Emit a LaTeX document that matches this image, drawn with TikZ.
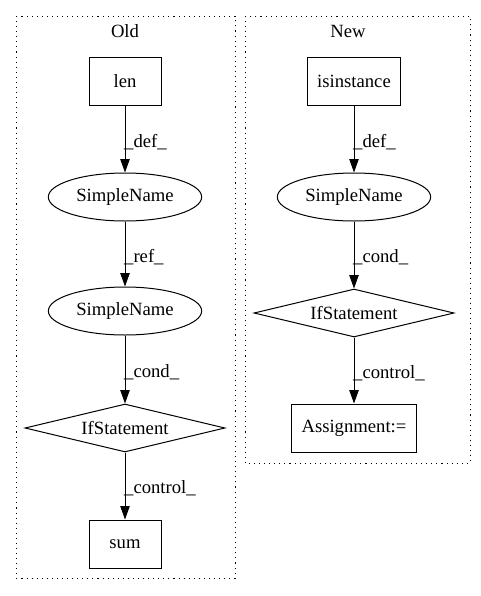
\documentclass[tikz,border=0pt]{standalone}
\usepackage{fontspec}
\setmainfont{Liberation Serif}
\usepackage{tikz}
\usetikzlibrary{arrows, arrows.meta}
\usetikzlibrary{positioning}
\usetikzlibrary{shapes.geometric}

\begin{document}
\begin{tikzpicture}[x=0.75pt, y=-0.75pt, font=\fontsize{14pt}{16pt}\selectfont, line width=0.75pt,
	box/.style={draw, rectangle, minimum height=36pt, inner sep=0pt},
	oval/.style={draw, ellipse, minimum width=115pt, minimum height=36pt, inner sep=0pt},
	cond/.style={draw, diamond, minimum width=150pt, minimum height=36pt, inner sep=0pt, aspect=4},
	cluster/.style={draw, dash pattern=on 0.8pt off 3pt},
	lab/.style={right, inner sep=0pt, xshift=-1pt, yshift=-2pt},
	edge/.style={-{Triangle[length=10pt, width=7pt]}}]
			\useasboundingbox (0,0) rectangle (480,596);
			\draw[cluster] (16,16) rectangle (235,578);
			\draw[cluster] (245,16) rectangle (470,463);
			\node(old) at (125,31){Old};
			\node(new) at (348,31){New};
			% old
			\node[box, minimum width=54pt](len) at (125,81){len};
			\node[oval](sn1) at (125,197){SimpleName};
			\node[oval](sn2) at (125,311){SimpleName};
			\node[cond](if1) at (125,428){IfStatement};
			\node[box, minimum width=54pt](sum) at (125,544){sum};
			% new
			\node[box, minimum width=70pt](isi) at (354,81){isinstance};
			\node[oval](sn3) at (354,197){SimpleName};
			\node[cond](if2) at (354,313){IfStatement};
			\node[box, minimum width=94pt](asg) at (354,428){Assignment:=};
			\foreach \a/\b/\t in {len/sn1/def, sn1/sn2/ref, sn2/if1/cond, if1/sum/control, isi/sn3/def, sn3/if2/cond, if2/asg/control}
			{
				\draw[edge] (\a) -- (\b) node[lab, midway]{\_\t\_};
			}
		\end{tikzpicture}
\end{document}
